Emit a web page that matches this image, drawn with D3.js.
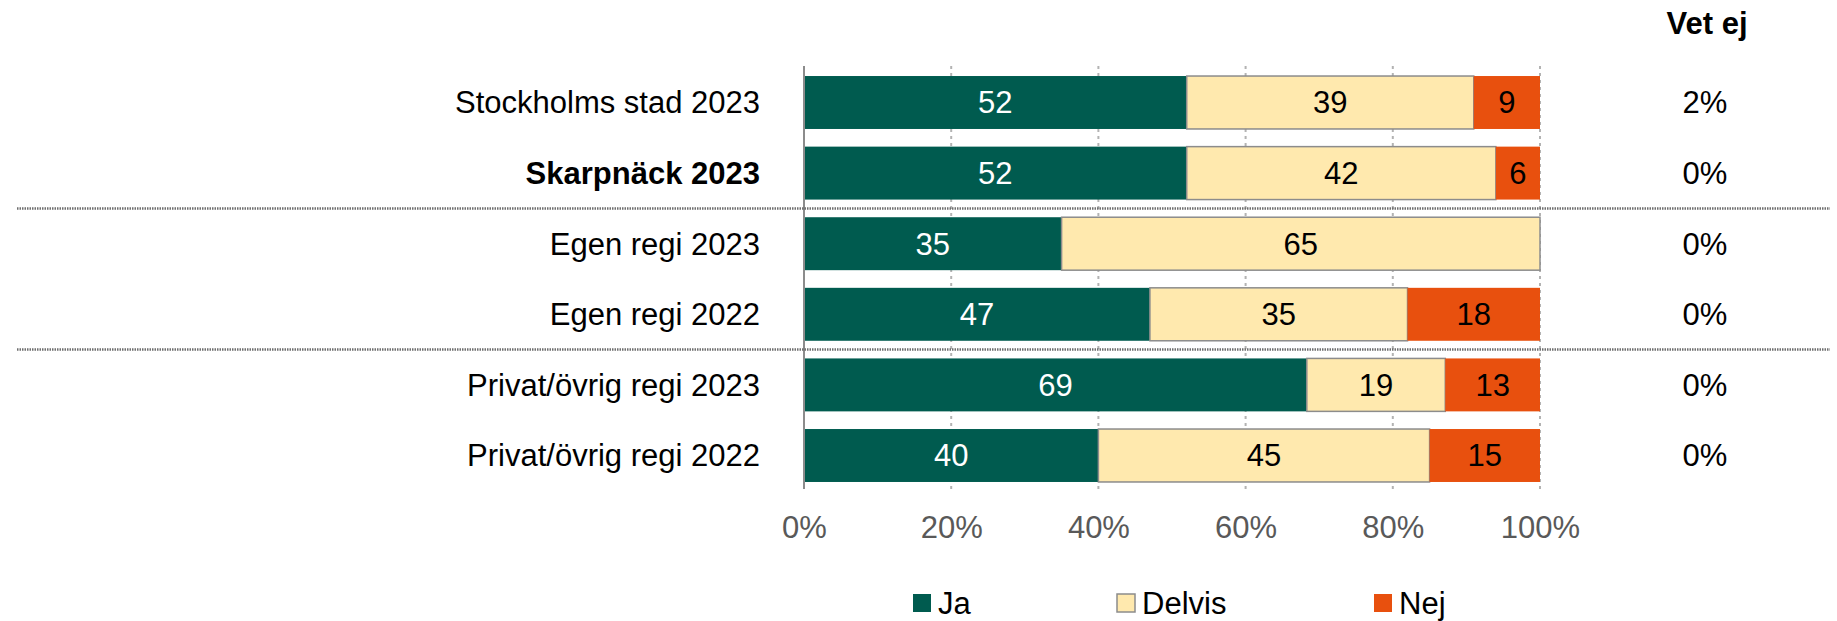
<!DOCTYPE html>
<html>
<head>
<meta charset="utf-8">
<script src="https://cdn.jsdelivr.net/npm/d3@7"></script>
<style>
  html, body { margin: 0; padding: 0; background: #fff; }
  svg { display: block; font-family: "Liberation Sans", Arial, sans-serif; }
</style>
</head>
<body>
<svg id="chart" width="1837" height="621"></svg>
<script>
// Row labels (top to bottom)
const categories = [
  "Stockholms stad 2023",
  "Skarpnäck 2023",
  "Egen regi 2023",
  "Egen regi 2022",
  "Privat/övrig regi 2023",
  "Privat/övrig regi 2022"
];
const boldCategories = ["Skarpnäck 2023"];

// Answer shares per row, in percent
const seriesNames = ["Ja", "Delvis", "Nej"];
const jaValues     = [52, 52, 35, 47, 69, 40];
const delvisValues = [39, 42, 65, 35, 19, 45];
const nejValues    = [9, 6, 0, 18, 13, 15];
const vetEjValues  = ["2%", "0%", "0%", "0%", "0%", "0%"];

const tickValues = [0, 0.2, 0.4, 0.6, 0.8, 1];
// Groups are separated after these row indices
const separatorsAfter = [1, 3];

const colors = { Ja: "#005b4f", Delvis: "#ffe9ae", Nej: "#e8500e" };
const labelColors = { Ja: "#ffffff", Delvis: "#000000", Nej: "#000000" };

const rows = categories.map((c, i) => ({
  category: c, Ja: jaValues[i], Delvis: delvisValues[i], Nej: nejValues[i]
}));

const svg = d3.select("#chart");
const fontSize = 31;

const x = d3.scaleLinear().domain([0, 1]).range([804, 1540]);
const y = d3.scaleBand().domain(categories).range([67.2, 490.8])
  .paddingInner(0.25).paddingOuter(0.125);

// 100% stacked layout
const stacked = d3.stack().keys(seriesNames).offset(d3.stackOffsetExpand)(rows);

// Gridlines
const grid = svg.append("g");
grid.selectAll("line").data(tickValues.filter(t => t > 0)).join("line")
  .attr("x1", d => x(d)).attr("x2", d => x(d))
  .attr("y1", 66).attr("y2", 489)
  .attr("stroke", "#b3b3b3").attr("stroke-width", 2)
  .attr("stroke-dasharray", "3,4");

// Bars
const layers = svg.append("g").selectAll("g").data(stacked).join("g")
  .attr("fill", d => colors[d.key]);

layers.selectAll("rect").data(d => d.map(p => ({ key: d.key, p }))).join("rect")
  .attr("x", d => x(d.p[0]))
  .attr("y", d => y(d.p.data.category))
  .attr("width", d => Math.max(0, x(d.p[1]) - x(d.p[0])))
  .attr("height", y.bandwidth())
  .attr("stroke", d => d.key === "Delvis" ? "#8c8c8c" : "none")
  .attr("stroke-width", 1.5);

// Value labels inside segments
layers.selectAll("text").data(d => d.map(p => ({ key: d.key, p })).filter(d => d.p.data[d.key] > 0))
  .join("text")
  .attr("x", d => (x(d.p[0]) + x(d.p[1])) / 2)
  .attr("y", d => y(d.p.data.category) + y.bandwidth() / 2)
  .attr("dy", "0.35em")
  .attr("text-anchor", "middle")
  .attr("font-size", fontSize)
  .attr("fill", d => labelColors[d.key])
  .text(d => d.p.data[d.key]);

// Zero axis line
svg.append("line")
  .attr("x1", x(0)).attr("x2", x(0))
  .attr("y1", 66).attr("y2", 489)
  .attr("stroke", "#8c8c8c").attr("stroke-width", 2);

// X axis tick labels
const xAxis = d3.axisBottom(x).tickValues(tickValues).tickFormat(d3.format(".0%")).tickSize(0).tickPadding(0);
const xg = svg.append("g").attr("transform", "translate(0,516)").call(xAxis);
xg.select(".domain").remove();
xg.selectAll("text")
  .attr("font-size", fontSize)
  .attr("font-family", "Liberation Sans, Arial, sans-serif")
  .attr("fill", "#595959")
  .attr("dy", "0.71em");

// Row labels
svg.append("g").selectAll("text").data(categories).join("text")
  .attr("x", 760)
  .attr("y", d => y(d) + y.bandwidth() / 2)
  .attr("dy", "0.35em")
  .attr("text-anchor", "end")
  .attr("font-size", fontSize)
  .attr("font-weight", d => boldCategories.includes(d) ? "bold" : "normal")
  .attr("fill", "#000")
  .text(d => d);

// Group separators
svg.append("g").selectAll("line").data(separatorsAfter).join("line")
  .attr("x1", 17).attr("x2", 1830)
  .attr("y1", i => (y(categories[i]) + y.bandwidth() + y(categories[i + 1])) / 2)
  .attr("y2", i => (y(categories[i]) + y.bandwidth() + y(categories[i + 1])) / 2)
  .attr("stroke", "#6e6e6e").attr("stroke-width", 2.5)
  .attr("stroke-dasharray", "1.5,1");

// "Vet ej" column
svg.append("text")
  .attr("x", 1707).attr("y", 34)
  .attr("text-anchor", "middle")
  .attr("font-size", fontSize).attr("font-weight", "bold")
  .text("Vet ej");

svg.append("g").selectAll("text").data(categories).join("text")
  .attr("x", 1705)
  .attr("y", d => y(d) + y.bandwidth() / 2)
  .attr("dy", "0.35em")
  .attr("text-anchor", "middle")
  .attr("font-size", fontSize)
  .text((d, i) => vetEjValues[i]);

// Legend
const legendItems = [
  { key: "Ja", x: 913 },
  { key: "Delvis", x: 1117 },
  { key: "Nej", x: 1374 }
];
const lg = svg.append("g").selectAll("g").data(legendItems).join("g")
  .attr("transform", d => `translate(${d.x},603)`);
lg.append("rect")
  .attr("x", 0).attr("y", -9).attr("width", 18).attr("height", 18)
  .attr("fill", d => colors[d.key])
  .attr("stroke", d => d.key === "Delvis" ? "#8c8c8c" : "none")
  .attr("stroke-width", 1.5);
lg.append("text")
  .attr("x", 25).attr("y", 0).attr("dy", "0.35em")
  .attr("font-size", fontSize)
  .text(d => d.key);
</script>
</body>
</html>
